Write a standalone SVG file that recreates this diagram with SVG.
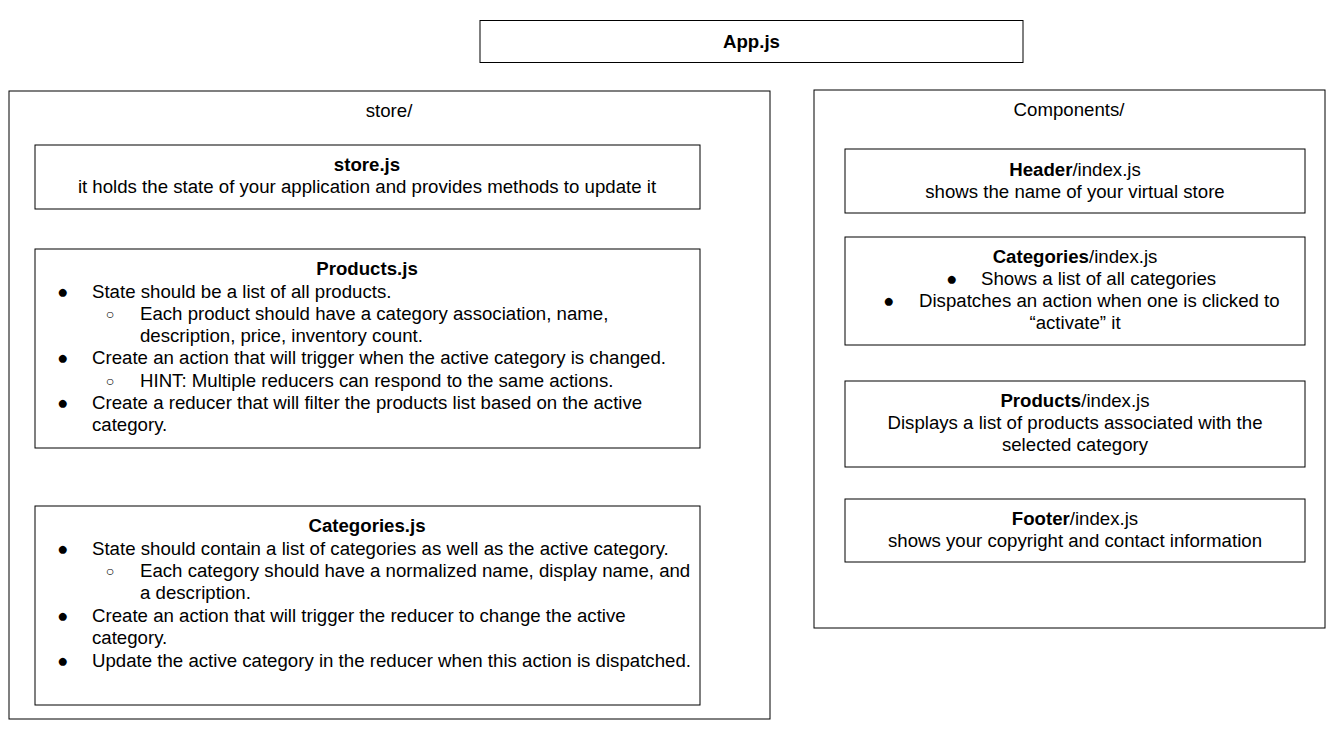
<svg xmlns="http://www.w3.org/2000/svg" width="1337" height="729" viewBox="0 0 1337 729">
<style>
rect{fill:#fff;stroke:#000;stroke-width:1}
text{font-family:"Liberation Sans",Arial,sans-serif;font-size:18.65px;fill:#000}
.c{text-anchor:middle}
.b{font-weight:bold}
.s{font-size:14px;text-anchor:middle}
</style>
<rect x="0" y="0" width="1337" height="729" style="stroke:none"/>
<g id="app"><rect x="480" y="20.5" width="543" height="42"/><text x="751.5" y="48" class="c b">App.js</text></g>
<g id="store"><rect x="9" y="91" width="761" height="628"/><text x="389" y="117" class="c">store/</text></g>
<g id="storejs"><rect x="35" y="145" width="665" height="64"/>
<text x="367" y="171" class="c b">store.js</text>
<text x="367" y="193" class="c">it holds the state of your application and provides methods to update it</text></g>
<g id="products"><rect x="35" y="249" width="665" height="199"/>
<text x="367" y="275" class="c b">Products.js</text>
<text x="57" y="298">●</text><text x="92" y="298">State should be a list of all products.</text>
<text x="110" y="319" class="s">○</text><text x="140" y="320">Each product should have a category association, name,</text>
<text x="140" y="342">description, price, inventory count.</text>
<text x="57" y="364">●</text><text x="92" y="364">Create an action that will trigger when the active category is changed.</text>
<text x="110" y="386" class="s">○</text><text x="140" y="387">HINT: Multiple reducers can respond to the same actions.</text>
<text x="57" y="409">●</text><text x="92" y="409">Create a reducer that will filter the products list based on the active</text>
<text x="92" y="431">category.</text></g>
<g id="categories"><rect x="35" y="506" width="665" height="199"/>
<text x="367" y="532" class="c b">Categories.js</text>
<text x="57" y="555">●</text><text x="92" y="555">State should contain a list of categories as well as the active category.</text>
<text x="110" y="576" class="s">○</text><text x="140" y="577">Each category should have a normalized name, display name, and</text>
<text x="140" y="599">a description.</text>
<text x="57" y="622">●</text><text x="92" y="622">Create an action that will trigger the reducer to change the active</text>
<text x="92" y="644">category.</text>
<text x="57" y="667">●</text><text x="92" y="667">Update the active category in the reducer when this action is dispatched.</text></g>
<g id="components"><rect x="814" y="90" width="511" height="538"/><text x="1069" y="116" class="c">Components/</text></g>
<g id="header"><rect x="845" y="149" width="460" height="64"/>
<text x="1075" y="176" class="c"><tspan class="b">Header</tspan>/index.js</text>
<text x="1075" y="198" class="c">shows the name of your virtual store</text></g>
<g id="catcomp"><rect x="845" y="237" width="460" height="108"/>
<text x="1075" y="263" class="c"><tspan class="b">Categories</tspan>/index.js</text>
<text x="946" y="285">●</text><text x="981" y="285">Shows a list of all categories</text>
<text x="883" y="307">●</text><text x="919" y="307">Dispatches an action when one is clicked to</text>
<text x="1075" y="329" class="c">“activate” it</text></g>
<g id="prodcomp"><rect x="845" y="381" width="460" height="86"/>
<text x="1075" y="407" class="c"><tspan class="b">Products</tspan>/index.js</text>
<text x="1075" y="429" class="c">Displays a list of products associated with the</text>
<text x="1075" y="451" class="c">selected category</text></g>
<g id="footer"><rect x="845" y="499" width="460" height="63"/>
<text x="1075" y="525" class="c"><tspan class="b">Footer</tspan>/index.js</text>
<text x="1075" y="547" class="c">shows your copyright and contact information</text></g>
<g id="connectors"></g>
</svg>
